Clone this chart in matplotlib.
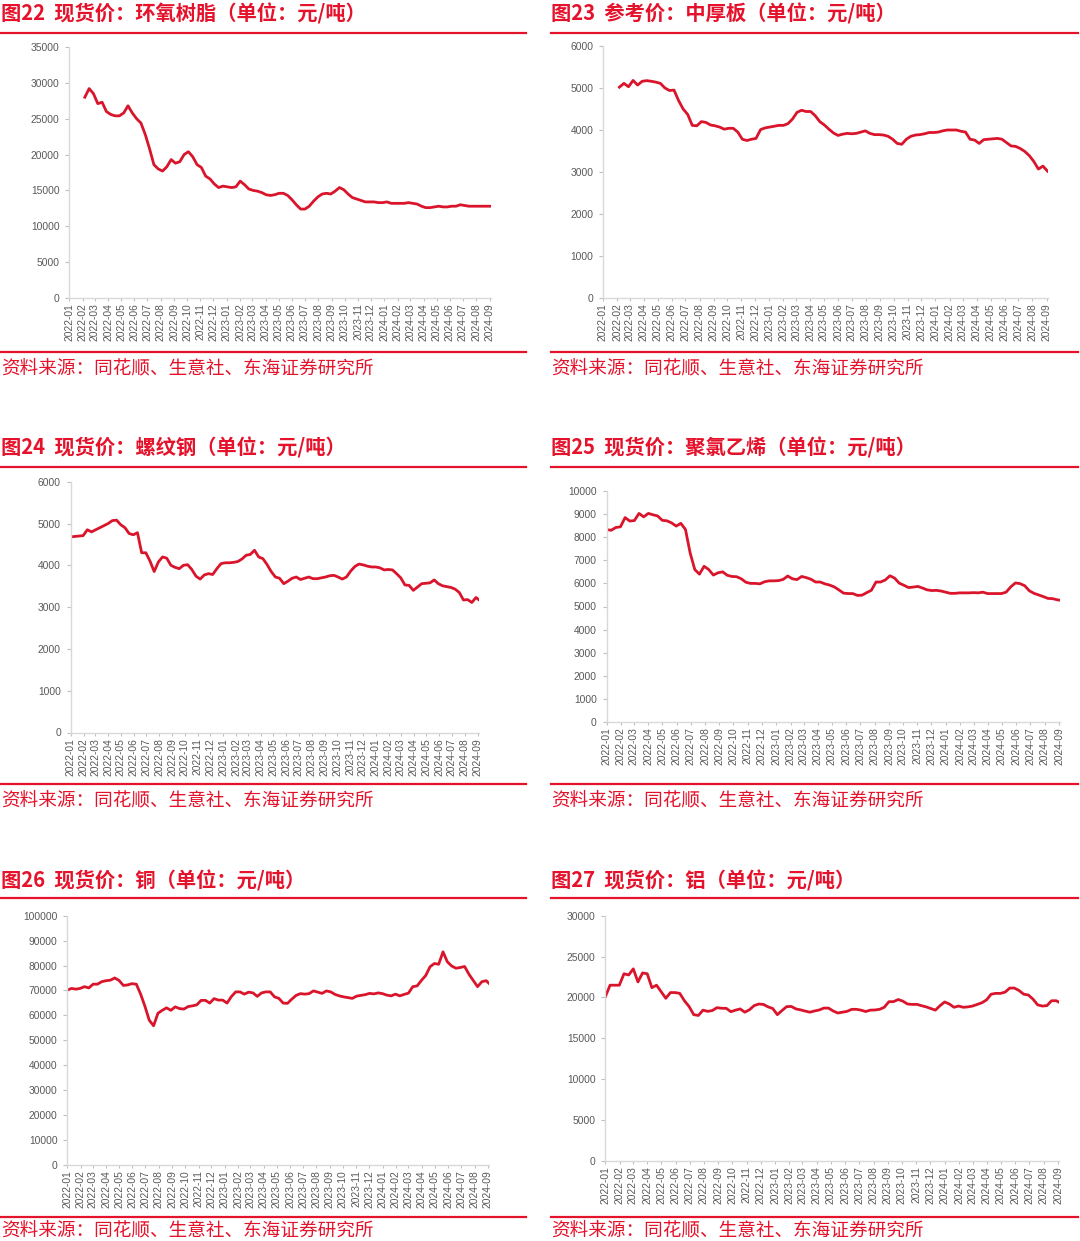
import numpy as np
import pandas as pd
import matplotlib
matplotlib.use("Agg")
import matplotlib.pyplot as plt
from matplotlib.lines import Line2D
from matplotlib.ticker import MultipleLocator, FuncFormatter

# values, one point every 10 days
epoxy_start = '2022-02-06'
epoxy_vals = [28000, 29200, 28500, 27100, 27300, 26000, 25600, 25400, 25400, 25800,
              26800, 25800, 25000, 24400, 22800, 20800, 18600, 18000, 17700, 18300,
              19300, 18800, 19000, 20000, 20400, 19700, 18600, 18200, 17000, 16600,
              15900, 15400, 15600, 15500, 15400, 15500, 16300, 15800, 15200, 15000,
              14900, 14700, 14400, 14300, 14400, 14600, 14600, 14300, 13700, 13000,
              12400, 12400, 12800, 13500, 14100, 14500, 14600, 14500, 14900, 15400,
              15100, 14500, 14000, 13800, 13600, 13400, 13400, 13400, 13300, 13300,
              13400, 13200, 13200, 13200, 13200, 13300, 13200, 13100, 12800, 12600,
              12600, 12700, 12800, 12700, 12700, 12800, 12800, 13000, 12900, 12800,
              12800, 12800, 12800, 12800, 12800]

plate_start = '2022-02-06'
plate_vals = [5020, 5110, 5030, 5180, 5070, 5160, 5175, 5160, 5140, 5110,
              5000, 4940, 4950, 4700, 4500, 4370, 4110, 4100, 4200, 4180,
              4120, 4100, 4070, 4020, 4040, 4040, 3950, 3780, 3750, 3780,
              3800, 4010, 4050, 4070, 4090, 4110, 4110, 4150, 4260, 4420,
              4470, 4440, 4440, 4340, 4200, 4120, 4020, 3930, 3870, 3900,
              3920, 3910, 3920, 3950, 3980, 3920, 3890, 3890, 3880, 3850,
              3780, 3680, 3660, 3780, 3850, 3880, 3890, 3910, 3940, 3940,
              3950, 3980, 4000, 4000, 4000, 3970, 3950, 3780, 3760, 3680,
              3770, 3780, 3790, 3800, 3780, 3700, 3620, 3610, 3560, 3490,
              3390, 3250, 3070, 3140, 3020]

rebar_start = '2022-01-01'
rebar_vals = [4680, 4690, 4700, 4710, 4850, 4800, 4850, 4900, 4950, 5000,
              5070, 5080, 4970, 4900, 4760, 4730, 4780, 4300, 4300, 4100,
              3850, 4080, 4200, 4170, 4000, 3950, 3920, 4000, 4015, 3900,
              3740, 3670, 3770, 3800, 3780, 3920, 4040, 4060, 4060, 4070,
              4090, 4150, 4240, 4260, 4360, 4200, 4160, 4020, 3850, 3720,
              3690, 3560, 3620, 3690, 3720, 3660, 3690, 3720, 3680, 3680,
              3700, 3720, 3750, 3760, 3720, 3670, 3720, 3860, 3970, 4030,
              4010, 3980, 3960, 3960, 3940, 3890, 3900, 3890, 3800, 3700,
              3530, 3520, 3400, 3480, 3560, 3570, 3580, 3650, 3560, 3510,
              3490, 3470, 3430, 3350, 3170, 3180, 3110, 3230, 3150]

pvc_start = '2022-01-01'
pvc_vals = [8330, 8300, 8420, 8450, 8850, 8700, 8720, 9030, 8880, 9030,
            8970, 8920, 8730, 8710, 8620, 8480, 8600, 8330, 7320, 6600,
            6400, 6740, 6600, 6360, 6460, 6500, 6350, 6300, 6290, 6200,
            6050, 6000, 6000, 5980, 6070, 6110, 6110, 6120, 6170, 6320,
            6200, 6165, 6300, 6250, 6180, 6060, 6060, 5980, 5930, 5850,
            5720, 5580, 5560, 5560, 5480, 5490, 5600, 5700, 6060, 6060,
            6150, 6330, 6230, 6010, 5920, 5820, 5840, 5870, 5800, 5720,
            5690, 5700, 5670, 5620, 5570, 5570, 5590, 5590, 5590, 5600,
            5590, 5620, 5560, 5560, 5560, 5560, 5620, 5850, 6020, 5990,
            5900, 5680, 5570, 5500, 5430, 5350, 5340, 5290, 5260]

copper_start = '2022-01-01'
copper_vals = [70100, 70800, 70500, 70800, 71500, 71000, 72500, 72500, 73500, 73900,
               74100, 75000, 74000, 72000, 72200, 72700, 72500, 68500, 63600, 58000,
               55800, 60800, 62000, 63000, 62000, 63400, 62700, 62500, 63500, 63800,
               64200, 66000, 66000, 64900, 66700, 66100, 66100, 64900, 67500, 69400,
               69400, 68500, 69300, 69000, 67600, 69000, 69400, 69400, 67400, 66800,
               64900, 64800, 66500, 68000, 68700, 68500, 68700, 69800, 69300, 68800,
               69800, 69400, 68400, 67800, 67400, 67100, 66800, 67700, 68000, 68300,
               68800, 68600, 69000, 68700, 68100, 67800, 68500, 67800, 68400, 68900,
               71500, 71800, 74000, 76000, 79500, 80800, 80500, 85500, 81500, 79800,
               78900, 79200, 79600, 76500, 74000, 71500, 73500, 73900, 72200]

alu_start = '2022-01-01'
alu_vals = [20100, 21500, 21500, 21500, 22900, 22750, 23500, 21900, 23000, 22900,
            21200, 21500, 20700, 19900, 20600, 20600, 20500, 19600, 18900, 17900,
            17800, 18450, 18300, 18400, 18750, 18680, 18670, 18260, 18450, 18600,
            18200, 18500, 19000, 19200, 19150, 18850, 18650, 17900, 18400, 18880,
            18900, 18600, 18480, 18330, 18200, 18350, 18470, 18700, 18700, 18350,
            18100, 18200, 18300, 18550, 18550, 18450, 18280, 18450, 18470, 18550,
            18800, 19480, 19490, 19750, 19550, 19200, 19150, 19160, 19000, 18850,
            18650, 18450, 19000, 19450, 19200, 18800, 18950, 18800, 18850, 18950,
            19150, 19350, 19700, 20400, 20500, 20500, 20650, 21150, 21150, 20850,
            20400, 20300, 19800, 19100, 18950, 19000, 19600, 19600, 19300]

titles = ['图22  现货价：环氧树脂（单位：元/吨）',
          '图23  参考价：中厚板（单位：元/吨）',
          '图24  现货价：螺纹钢（单位：元/吨）',
          '图25  现货价：聚氯乙烯（单位：元/吨）',
          '图26  现货价：铜（单位：元/吨）',
          '图27  现货价：铝（单位：元/吨）']
source = '资料来源：同花顺、生意社、东海证券研究所'

month_ticks = pd.date_range('2022-01-01', '2024-09-01', freq='MS')
month_labels = [d.strftime('%Y-%m') for d in month_ticks]

W, H = 1080, 1241
RED = '#E5122B'
LINE_RED = '#D9142B'
CJK = ['Noto Sans CJK SC', 'DejaVu Sans']
LAT = ['Liberation Sans', 'DejaVu Sans']

fig = plt.figure(figsize=(W / 100, H / 100), dpi=100)


def fx(x):
    return x / W


def fy(y):
    return 1 - y / H


# (series start, values, ymax, ystep, axes box in px: left, right, top, bottom)
panels = [
    (epoxy_start, epoxy_vals, 35000, 5000, (69.3, 490.5, 47, 298)),
    (plate_start, plate_vals, 6000, 1000, (603, 1047.5, 46, 298)),
    (rebar_start, rebar_vals, 6000, 1000, (70.6, 478.5, 481.7, 732.5)),
    (pvc_start, pvc_vals, 10000, 1000, (606.5, 1060, 491, 722)),
    (copper_start, copper_vals, 100000, 10000, (67.2, 488.8, 915.7, 1164.7)),
    (alu_start, alu_vals, 30000, 5000, (605.4, 1059, 915.7, 1161)),
]
# title row y, top rule y, bottom rule y, source y for each row
rows = [(14, 32.5, 352, 368), (448, 467, 784, 800), (881, 898, 1217, 1230)]
cols = [(1, 0, 526), (551, 551, 1078)]

for i, (start, vals, ymax, ystep, box) in enumerate(panels):
    r, c = divmod(i, 2)
    ty, rule_top, rule_bot, sy = rows[r]
    tx, lx0, lx1 = cols[c]

    fig.text(fx(tx), fy(ty), titles[i], color=RED, fontsize=14.6,
             fontweight='bold', family=CJK, ha='left', va='center')
    fig.text(fx(tx), fy(sy), source, color=RED, fontsize=13.4,
             family=CJK, ha='left', va='center')
    for yy in (rule_top, rule_bot):
        fig.add_artist(Line2D([fx(lx0), fx(lx1)], [fy(yy), fy(yy)],
                              color=RED, linewidth=1.6))

    left, right, top, bottom = box
    ax = fig.add_axes([fx(left), fy(bottom), fx(right) - fx(left), fy(top) - fy(bottom)])
    dates = pd.date_range(start, periods=len(vals), freq='10D')
    ax.plot(dates, vals, color=LINE_RED, linewidth=2.0, solid_joinstyle='round')

    ax.set_xlim(pd.Timestamp('2022-01-01'), pd.Timestamp('2024-09-03'))
    ax.set_ylim(0, ymax)
    ax.yaxis.set_major_locator(MultipleLocator(ystep))
    ax.yaxis.set_major_formatter(FuncFormatter(lambda v, p: f'{int(v)}'))
    ax.set_xticks(month_ticks)
    ax.set_xticklabels(month_labels, rotation=90)

    for s in ('top', 'right'):
        ax.spines[s].set_visible(False)
    for s in ('left', 'bottom'):
        ax.spines[s].set_color('#d9d9d9')
        ax.spines[s].set_linewidth(1.0)
    ax.tick_params(axis='y', length=3, width=0.8, color='#bfbfbf', pad=4,
                   labelsize=7.4, labelcolor='#595959')
    ax.tick_params(axis='x', length=2.5, width=0.8, color='#bfbfbf', pad=1.5,
                   labelsize=7.4, labelcolor='#595959')
    for lab in ax.get_xticklabels() + ax.get_yticklabels():
        lab.set_family(LAT)
    ax.patch.set_visible(False)

fig.savefig('out.png', dpi=100, facecolor='white')
